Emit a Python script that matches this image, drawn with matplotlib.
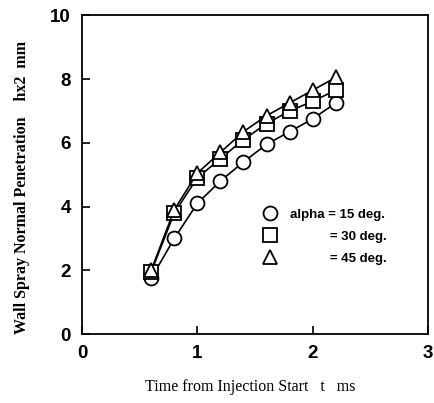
import numpy as np
import matplotlib.pyplot as plt

# Data
t = [0.6, 0.8, 1.0, 1.2, 1.4, 1.6, 1.8, 2.0, 2.2]
pen_15 = [1.75, 3.0, 4.1, 4.8, 5.4, 5.95, 6.35, 6.75, 7.25]
pen_30 = [1.95, 3.8, 4.9, 5.5, 6.1, 6.6, 7.0, 7.3, 7.65]
pen_45 = [2.0, 3.9, 5.05, 5.7, 6.35, 6.85, 7.25, 7.65, 8.05]
labels = ['alpha = 15 deg.', '           = 30 deg.', '           = 45 deg.']

fig = plt.figure(figsize=(4.34, 4.03), dpi=100)
ax = fig.add_axes([0.189, 0.171, 0.797, 0.791])

mk = dict(color='black', markerfacecolor='white', markeredgecolor='black',
          markersize=10, markeredgewidth=1.3, linewidth=1.2)
ax.plot(t, pen_15, marker='o', **mk)
ax.plot(t, pen_30, marker='s', **mk)
ax.plot(t, pen_45, marker='^', **mk)

# legend handles (markers only)
h = [plt.Line2D([], [], linestyle='none', marker=m, markerfacecolor='white',
                markeredgecolor='black', markersize=10, markeredgewidth=1.3)
     for m in ['o', 's', '^']]
leg = ax.legend(h, labels, loc='center right', bbox_to_anchor=(0.915, 0.305),
                frameon=False, handletextpad=0.5, labelspacing=0.75,
                prop={'family': 'Liberation Sans', 'weight': 'bold', 'size': 9.5})

ax.set_xlim(0, 3)
ax.set_ylim(0, 10)
ax.set_xticks([0, 1, 2, 3])
ax.set_yticks([0, 2, 4, 6, 8, 10])
ax.tick_params(direction='in', length=6, width=1.2, pad=8)
for lab in ax.get_xticklabels() + ax.get_yticklabels():
    lab.set_fontfamily('Liberation Sans')
    lab.set_fontweight('bold')
    lab.set_fontsize(13.5)
for s in ax.spines.values():
    s.set_linewidth(1.3)

ax.set_xlabel('Time from Injection Start   t   ms', fontfamily='Liberation Serif',
              fontsize=11.5)
ax.xaxis.set_label_coords(0.485, -0.14)
ax.set_ylabel('Wall Spray Normal Penetration    hx2  mm', fontfamily='Liberation Serif',
              fontsize=11.5, fontweight='bold')
ax.yaxis.set_label_coords(-0.15, 0.46)

fig.savefig('out.png', dpi=100)
